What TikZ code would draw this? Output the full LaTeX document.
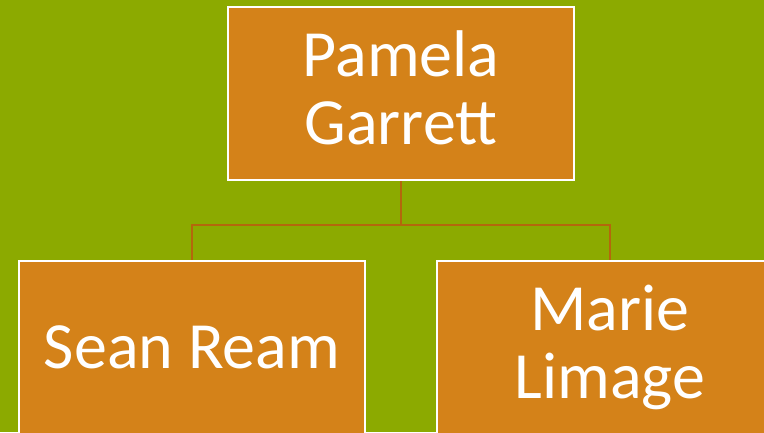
\documentclass[tikz,border=0pt]{standalone}
\usepackage{fontspec}
\setmainfont{Carlito}
\definecolor{bggreen}{HTML}{8CAA00}
\definecolor{boxorange}{HTML}{D48219}
\definecolor{linkbrown}{HTML}{B4670C}
\begin{document}
\begin{tikzpicture}[x=1pt,y=-1pt,
  person/.style={draw=white, line width=2pt, fill=boxorange, text=white,
    minimum width=346pt, minimum height=173pt, inner sep=0pt, align=center,
    font=\fontsize{66}{68}\selectfont},
  link/.style={draw=linkbrown, line width=2pt}]
\fill[bggreen] (0,0) rectangle (764,432);
\useasboundingbox (0,0) rectangle (764,432);
\node[person, text depth=12pt] (pg) at (401,93.5) {Pamela\\Garrett};
\node[person] (sr) at (192,347.5) {Sean Ream};
\node[person] (ml) at (610,347.5) {Marie\\Limage};
\coordinate (j) at (401,225);
\draw[link] (pg.south) -- (j);
\draw[link] (j) -| (sr.north);
\draw[link] (j) -| (ml.north);
\end{tikzpicture}
\end{document}
